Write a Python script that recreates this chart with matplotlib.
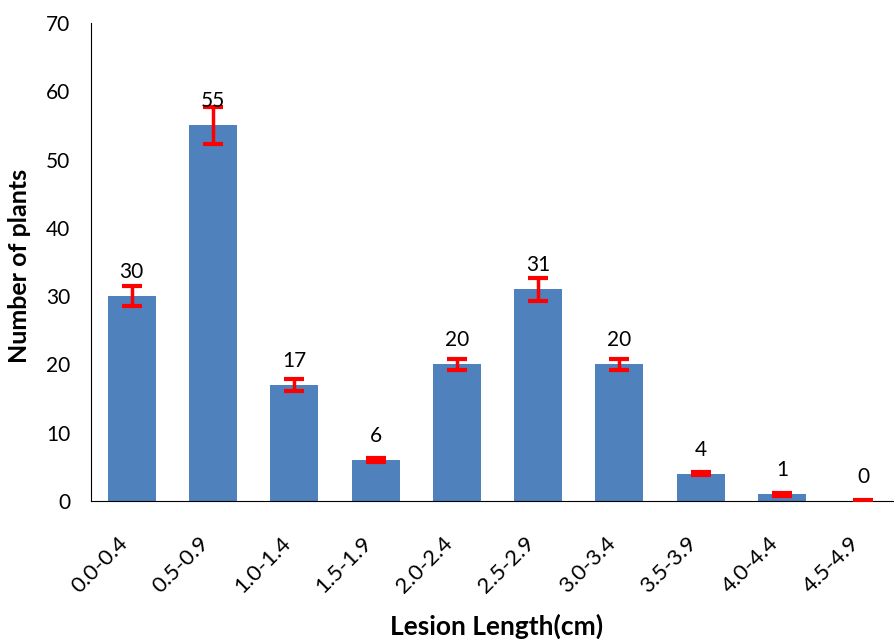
import matplotlib
matplotlib.use("Agg")
import matplotlib.pyplot as plt
from matplotlib.transforms import ScaledTranslation

categories = ["0.0-0.4", "0.5-0.9", "1.0-1.4", "1.5-1.9", "2.0-2.4",
              "2.5-2.9", "3.0-3.4", "3.5-3.9", "4.0-4.4", "4.5-4.9"]
counts = [30, 55, 17, 6, 20, 31, 20, 4, 1, 0]
errors = [1.5, 2.75, 0.83, 0.3, 0.83, 1.66, 0.83, 0.2, 0.2, 0.1]

plt.rcParams['font.family'] = ['Lato', 'DejaVu Sans']

fig = plt.figure(figsize=(8.94, 6.39), dpi=100)
W, H = 894, 639
left, right, top, bottom = 91, 904, 23, 501
ax = fig.add_axes([left / W, 1 - bottom / H, (right - left) / W, (bottom - top) / H])

x = list(range(len(categories)))
ax.bar(x, counts, width=0.59, color='#4F81BD', zorder=2)
ax.errorbar(x, counts, yerr=errors, fmt='none', ecolor='#FF0000',
            elinewidth=2.5, capsize=7, capthick=3, zorder=3)
for xi, c in zip(x, counts):
    ax.annotate(str(c), (xi, c), xytext=(0, 13), textcoords='offset points',
                ha='center', va='baseline', fontsize=15, color='black', zorder=4)

ax.set_xlim(-0.5, len(categories) - 0.5)
ax.set_ylim(0, 70)
ax.set_yticks(range(0, 71, 10))
ax.set_xticks(x)
ax.set_xticklabels(categories, rotation=45, ha='right', va='top',
                   rotation_mode='anchor', fontsize=16)
ax.tick_params(axis='y', labelsize=15, length=0, pad=15)
ax.tick_params(axis='x', length=0, pad=20)
shift = ScaledTranslation(-14 / 100, -4 / 100, fig.dpi_scale_trans)
for lbl in ax.get_xticklabels():
    lbl.set_transform(lbl.get_transform() + shift)
for s in ['top', 'right']:
    ax.spines[s].set_visible(False)
ax.spines['left'].set_color('black')
ax.spines['bottom'].set_color('black')

ax.set_ylabel("Number of plants", fontsize=18, fontweight='bold')
ax.set_xlabel("Lesion Length(cm)", fontsize=19, fontweight='bold')
ax.xaxis.label.set_va('center')
ax.yaxis.label.set_va('center')
ax.xaxis.set_label_coords((497 - left) / (right - left), -(626 - bottom) / (bottom - top))
ax.yaxis.set_label_coords(-(91 - 20) / (right - left), (bottom - 266) / (bottom - top))

fig.savefig("out.png", dpi=100)
